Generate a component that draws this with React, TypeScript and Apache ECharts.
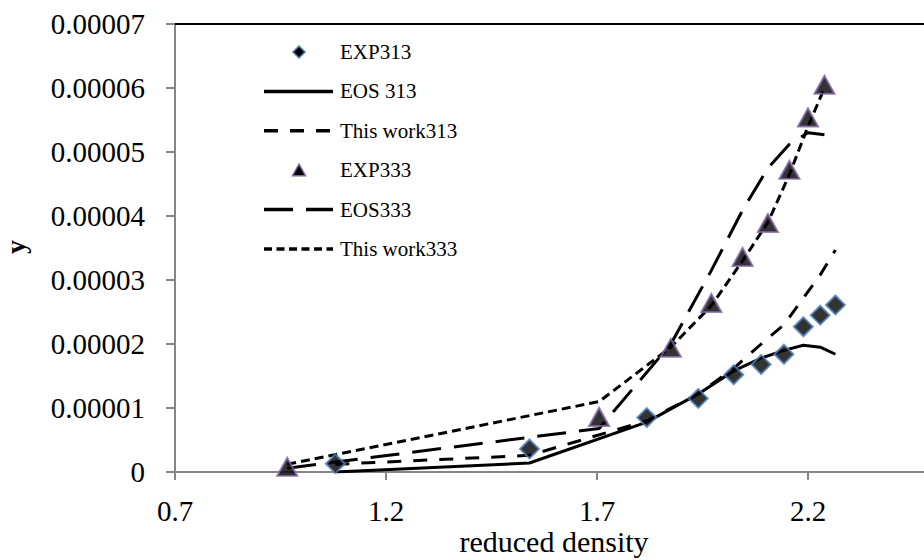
import React, { useEffect, useRef } from "react";
import * as echarts from "echarts";

// ---- data ----
const xTickLabels = ["0.7", "1.2", "1.7", "2.2"];
const yTickLabels = ["0", "0.00001", "0.00002", "0.00003", "0.00004", "0.00005", "0.00006", "0.00007"];
const seriesNames = ["EXP313", "EOS 313", "This work313", "EXP333", "EOS333", "This work333"];

const x313 = [1.08, 1.54, 1.818, 1.94, 2.024, 2.089, 2.143, 2.189, 2.229, 2.265];
const exp313 = [1.3e-6, 3.6e-6, 8.5e-6, 1.15e-5, 1.52e-5, 1.68e-5, 1.84e-5, 2.27e-5, 2.45e-5, 2.61e-5];
const eos313 = [0.0, 1.4e-6, 7.8e-6, 1.22e-5, 1.58e-5, 1.78e-5, 1.9e-5, 1.98e-5, 1.95e-5, 1.84e-5];
const work313 = [1.2e-6, 2.6e-6, 8.0e-6, 1.22e-5, 1.62e-5, 2.0e-5, 2.3e-5, 2.72e-5, 3.08e-5, 3.47e-5];

const x333 = [0.966, 1.705, 1.875, 1.971, 2.045, 2.105, 2.156, 2.2, 2.239];
const exp333 = [8e-7, 8.6e-6, 1.94e-5, 2.64e-5, 3.36e-5, 3.89e-5, 4.72e-5, 5.54e-5, 6.05e-5];
const eos333 = [6e-7, 6.8e-6, 2.0e-5, 3.15e-5, 4.09e-5, 4.75e-5, 5.12e-5, 5.3e-5, 5.27e-5];
const work333 = [1.2e-6, 1.1e-5, 1.95e-5, 2.6e-5, 3.3e-5, 3.9e-5, 4.65e-5, 5.4e-5, 6.0e-5];

const FONT = "'Liberation Serif', 'Times New Roman', serif";
const AXIS_GRAY = "#868686";
const DIAMOND_BORDER = "#4F81BD";
const TRIANGLE_BORDER = "#8064A2";

const DASH_313 = [14, 12];
const DASH_EOS333 = [29, 13];
const DASH_333 = [9, 5];

const zip = (xs: number[], ys: number[]) => xs.map((x, i) => [x, ys[i]]);

// legend layout (pixels)
const LEG_TOP = 52;
const LEG_STEP = 39.4;
const LEG_X1 = 264;
const LEG_X2 = 333;
const LEG_MX = 299;
const LEG_TX = 340;

function legendGraphics(): any[] {
  const kinds: Array<{ kind: string; dash?: number[] }> = [
    { kind: "diamond" },
    { kind: "line" },
    { kind: "line", dash: DASH_313 },
    { kind: "triangle" },
    { kind: "line", dash: DASH_EOS333 },
    { kind: "line", dash: [8, 4.5] },
  ];
  const out: any[] = [];
  kinds.forEach((k, i) => {
    const cy = LEG_TOP + i * LEG_STEP;
    if (k.kind === "diamond") {
      out.push({
        type: "polygon",
        shape: { points: [[LEG_MX, cy - 6], [LEG_MX + 6, cy], [LEG_MX, cy + 6], [LEG_MX - 6, cy]] },
        style: { fill: "#000", stroke: DIAMOND_BORDER, lineWidth: 1.5 },
      });
    } else if (k.kind === "triangle") {
      out.push({
        type: "polygon",
        shape: { points: [[LEG_MX, cy - 6], [LEG_MX + 6.5, cy + 5.5], [LEG_MX - 6.5, cy + 5.5]] },
        style: { fill: "#000", stroke: TRIANGLE_BORDER, lineWidth: 1.5 },
      });
    } else {
      out.push({
        type: "line",
        shape: { x1: LEG_X1, y1: cy, x2: LEG_X2, y2: cy },
        style: { stroke: "#000", lineWidth: 3.5, lineDash: k.dash || null },
      });
    }
    out.push({
      type: "text",
      x: LEG_TX,
      y: cy,
      style: {
        text: seriesNames[i],
        font: `21px ${FONT}`,
        fill: "#000",
        textVerticalAlign: "middle",
        verticalAlign: "middle",
      },
    });
  });
  return out;
}

export default function App() {
  const ref = useRef<HTMLDivElement>(null);
  useEffect(() => {
    if (!ref.current) return;
    const chart = echarts.init(ref.current, null, { renderer: "svg" });
    const option: any = {
      animation: false,
      backgroundColor: "#ffffff",
      grid: {
        left: 175,
        top: 24,
        width: 844,
        height: 448,
        containLabel: false,
        outerBoundsMode: "none",
      },
      xAxis: [
        {
          type: "value",
          min: 0.7,
          max: 2.7,
          interval: 0.5,
          axisLine: { show: true, onZero: false, lineStyle: { color: AXIS_GRAY, width: 2 } },
          axisTick: { show: true, length: 8, lineStyle: { color: AXIS_GRAY, width: 2 } },
          splitLine: { show: false },
          axisLabel: {
            fontFamily: FONT,
            fontSize: 29,
            color: "#000",
            margin: 24,
            showMaxLabel: false,
            formatter: (v: number) => xTickLabels[Math.round((v - 0.7) / 0.5)] ?? "",
          },
        },
        {
          type: "value",
          position: "top",
          min: 0.7,
          max: 2.7,
          interval: 0.5,
          axisLine: { show: true, onZero: false, lineStyle: { color: "#000", width: 2 } },
          axisTick: { show: false },
          axisLabel: { show: false },
          splitLine: { show: false },
        },
      ],
      yAxis: {
        type: "value",
        min: 0,
        max: 0.00007,
        interval: 0.00001,
        axisLine: { show: true, onZero: false, lineStyle: { color: AXIS_GRAY, width: 2 } },
        axisTick: { show: true, length: 9, lineStyle: { color: AXIS_GRAY, width: 2 } },
        splitLine: { show: false },
        axisLabel: {
          fontFamily: FONT,
          fontSize: 29,
          color: "#000",
          margin: 30,
          formatter: (v: number) => yTickLabels[Math.round(v / 0.00001)] ?? "",
        },
      },
      graphic: [
        {
          type: "text",
          x: 554,
          y: 541,
          style: {
            text: "reduced density",
            font: `30px ${FONT}`,
            fill: "#000",
            textAlign: "center",
            textVerticalAlign: "middle",
            align: "center",
            verticalAlign: "middle",
          },
        },
        {
          type: "text",
          x: 15,
          y: 247,
          rotation: Math.PI / 2,
          style: {
            text: "y",
            font: `bold 28px ${FONT}`,
            fill: "#000",
            textAlign: "center",
            textVerticalAlign: "middle",
            align: "center",
            verticalAlign: "middle",
          },
        },
        ...legendGraphics(),
      ],
      series: [
        {
          name: seriesNames[0],
          type: "scatter",
          data: zip(x313, exp313),
          symbol: "diamond",
          symbolSize: 19,
          itemStyle: { color: "#000", borderColor: DIAMOND_BORDER, borderWidth: 2 },
          z: 3,
        },
        {
          name: seriesNames[1],
          type: "line",
          data: zip(x313, eos313),
          symbol: "none",
          lineStyle: { color: "#000", width: 3, type: "solid" },
        },
        {
          name: seriesNames[2],
          type: "line",
          data: zip(x313, work313),
          symbol: "none",
          lineStyle: { color: "#000", width: 3, type: DASH_313 },
        },
        {
          name: seriesNames[3],
          type: "scatter",
          data: zip(x333, exp333),
          symbol: "triangle",
          symbolSize: [20, 18],
          itemStyle: { color: "#000", borderColor: TRIANGLE_BORDER, borderWidth: 2 },
          z: 3,
        },
        {
          name: seriesNames[4],
          type: "line",
          data: zip(x333, eos333),
          symbol: "none",
          lineStyle: { color: "#000", width: 3, type: DASH_EOS333 },
        },
        {
          name: seriesNames[5],
          type: "line",
          data: zip(x333, work333),
          symbol: "none",
          lineStyle: { color: "#000", width: 3, type: DASH_333 },
        },
      ],
    };
    chart.setOption(option);
    return () => chart.dispose();
  }, []);
  return (
    <div
      ref={ref}
      style={{ position: "absolute", left: 0, top: 0, width: 924, height: 560, background: "#fff" }}
    />
  );
}
